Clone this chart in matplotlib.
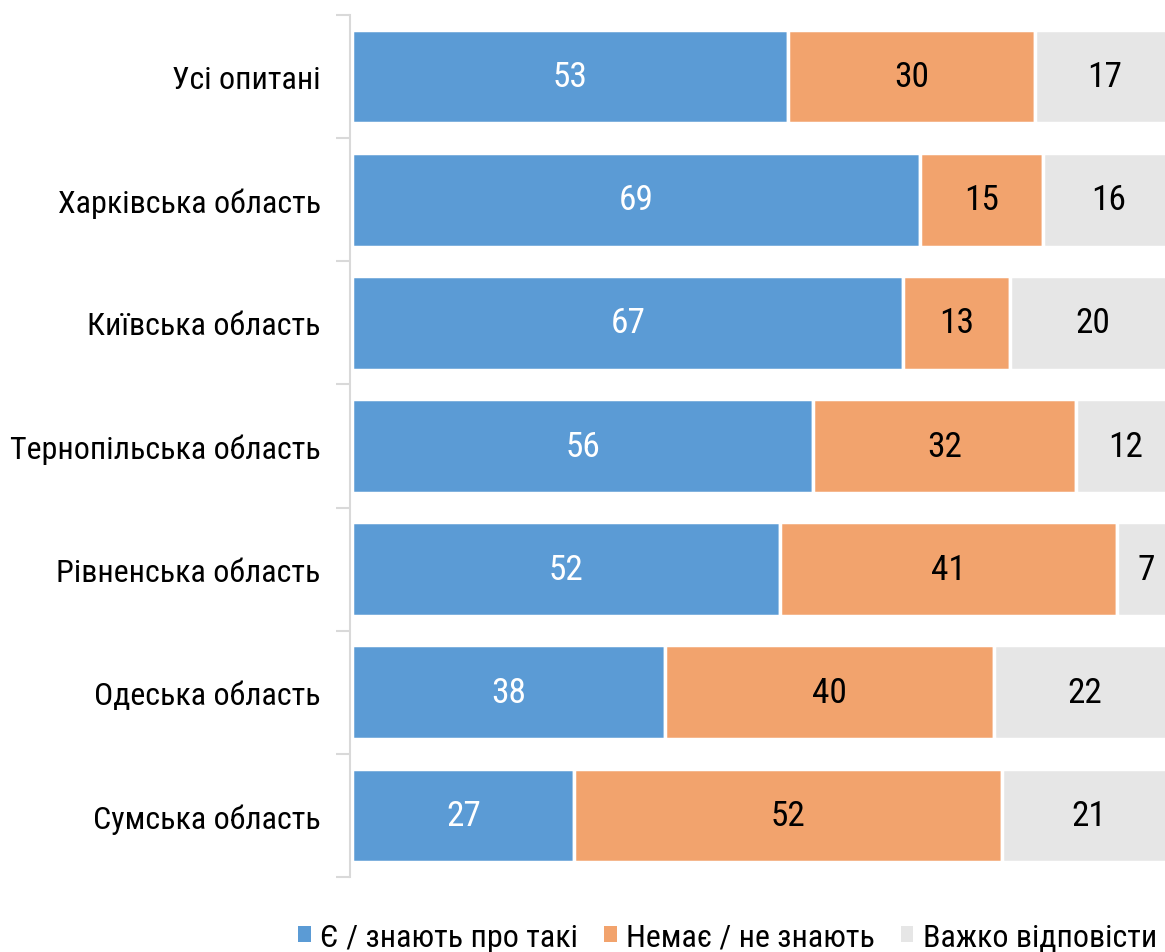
import matplotlib.pyplot as plt
from matplotlib.patches import Patch

plt.rcParams['font.family'] = ['Roboto Condensed', 'Roboto', 'DejaVu Sans']

categories = ['Усі опитані', 'Харківська область', 'Київська область',
              'Тернопільська область', 'Рівненська область', 'Одеська область',
              'Сумська область']
yes_vals = [53, 69, 67, 56, 52, 38, 27]
no_vals = [30, 15, 13, 32, 41, 40, 52]
hard_vals = [17, 16, 20, 12, 7, 22, 21]
series_names = ['Є / знають про такі', 'Немає / не знають', 'Важко відповісти']
colors = ['#5B9BD5', '#F2A36D', '#E6E6E6']
text_colors = ['white', 'black', 'black']

fig = plt.figure(figsize=(11.65, 9.53), dpi=100)
ax = fig.add_axes([0.3004, 0.0787, 0.6996, 0.9045])

y = list(range(len(categories)))
left = [0] * len(categories)
for vals, col, tc in zip([yes_vals, no_vals, hard_vals], colors, text_colors):
    ax.barh(y, vals, left=left, height=0.76, color=col,
            edgecolor='white', linewidth=2.5)
    for yi, v, l in zip(y, vals, left):
        ax.text(l + v / 2, yi, str(v), ha='center', va='center',
                fontsize=25.5, color=tc)
    left = [a + b for a, b in zip(left, vals)]

ax.set_xlim(-0.3, 98.8)
ax.set_ylim(len(categories) - 0.5, -0.5)
ax.set_yticks(y)
ax.set_yticklabels(categories, fontsize=23)
ax.set_yticks([i - 0.5 for i in range(len(categories) + 1)], minor=True)
ax.tick_params(axis='y', which='major', length=0, pad=21)
ax.tick_params(axis='y', which='minor', length=10, width=1.5, color='#D9D9D9')
ax.set_xticks([])
for s in ['top', 'right', 'bottom']:
    ax.spines[s].set_visible(False)
ax.spines['left'].set_color('#D9D9D9')
ax.spines['left'].set_linewidth(1.5)

handles = [Patch(facecolor=c, edgecolor='none') for c in colors]
fig.legend(handles, series_names, loc='lower center', bbox_to_anchor=(0.6245, -0.03),
           ncol=3, frameon=False, fontsize=23, handlelength=0.4, handleheight=0.4,
           handletextpad=0.3, columnspacing=0.8)

fig.savefig('out.png', dpi=100)
